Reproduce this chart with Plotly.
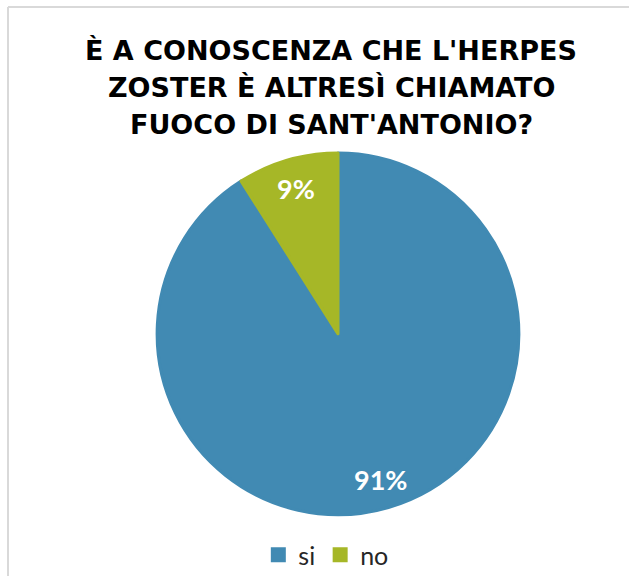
import math
import plotly.graph_objects as go

labels = ["si", "no"]
values = [91, 9]
colors = ["#418AB3", "#A6B727"]
title_lines = ["È A CONOSCENZA CHE L'HERPES", "ZOSTER È ALTRESÌ CHIAMATO", "FUOCO DI SANT'ANTONIO?"]

W, H = 629, 578
cx, cy, R = 338, 335, 181.5

fig = go.Figure(go.Pie(
    labels=labels, values=values, sort=False, direction="clockwise", rotation=0,
    marker=dict(colors=colors, line=dict(width=3, color=colors)),
    textinfo="none", hoverinfo="label+percent",
    domain=dict(x=[(cx - R) / W, (cx + R) / W], y=[1 - (cy + R) / H, 1 - (cy - R) / H]),
))

annotations = []
for i, line in enumerate(title_lines):
    annotations.append(dict(text=line, x=331 / W, y=1 - (51 + 37 * i) / H, xref="paper", yref="paper",
                            showarrow=False, xanchor="center", yanchor="middle",
                            font=dict(family="DejaVu Sans", size=27, color="#000000", weight="bold")))

total = sum(values)
start = 0.0
for v in values:
    mid = start + v / total * 360 / 2
    start += v / total * 360
    a = math.radians(mid)
    r = 0.83 * 183
    px = cx + r * math.sin(a)
    py = cy - r * math.cos(a)
    annotations.append(dict(text=f"{round(v / total * 100)}%", x=px / W, y=1 - py / H, xref="paper", yref="paper",
                            showarrow=False, xanchor="center", yanchor="middle",
                            font=dict(family="Lato", size=27, color="#FFFFFF", weight="bold")))

fig.update_layout(
    width=W, height=H, margin=dict(l=0, r=0, t=0, b=0),
    paper_bgcolor="#FFFFFF", plot_bgcolor="#FFFFFF",
    annotations=annotations,
    showlegend=True,
    legend=dict(orientation="h", x=0.518, xanchor="center", y=1 - 557 / H, yanchor="middle",
                font=dict(family="Lato", size=25, color="#262626"), itemwidth=30),
    shapes=[
        dict(type="line", xref="paper", yref="paper", x0=8 / W, x1=1, y0=1 - 7 / H, y1=1 - 7 / H,
             line=dict(color="#D9D9D9", width=2)),
        dict(type="line", xref="paper", yref="paper", x0=8 / W, x1=8 / W, y0=0, y1=1 - 7 / H,
             line=dict(color="#D9D9D9", width=2)),
    ],
)

fig.write_html("out.html")
